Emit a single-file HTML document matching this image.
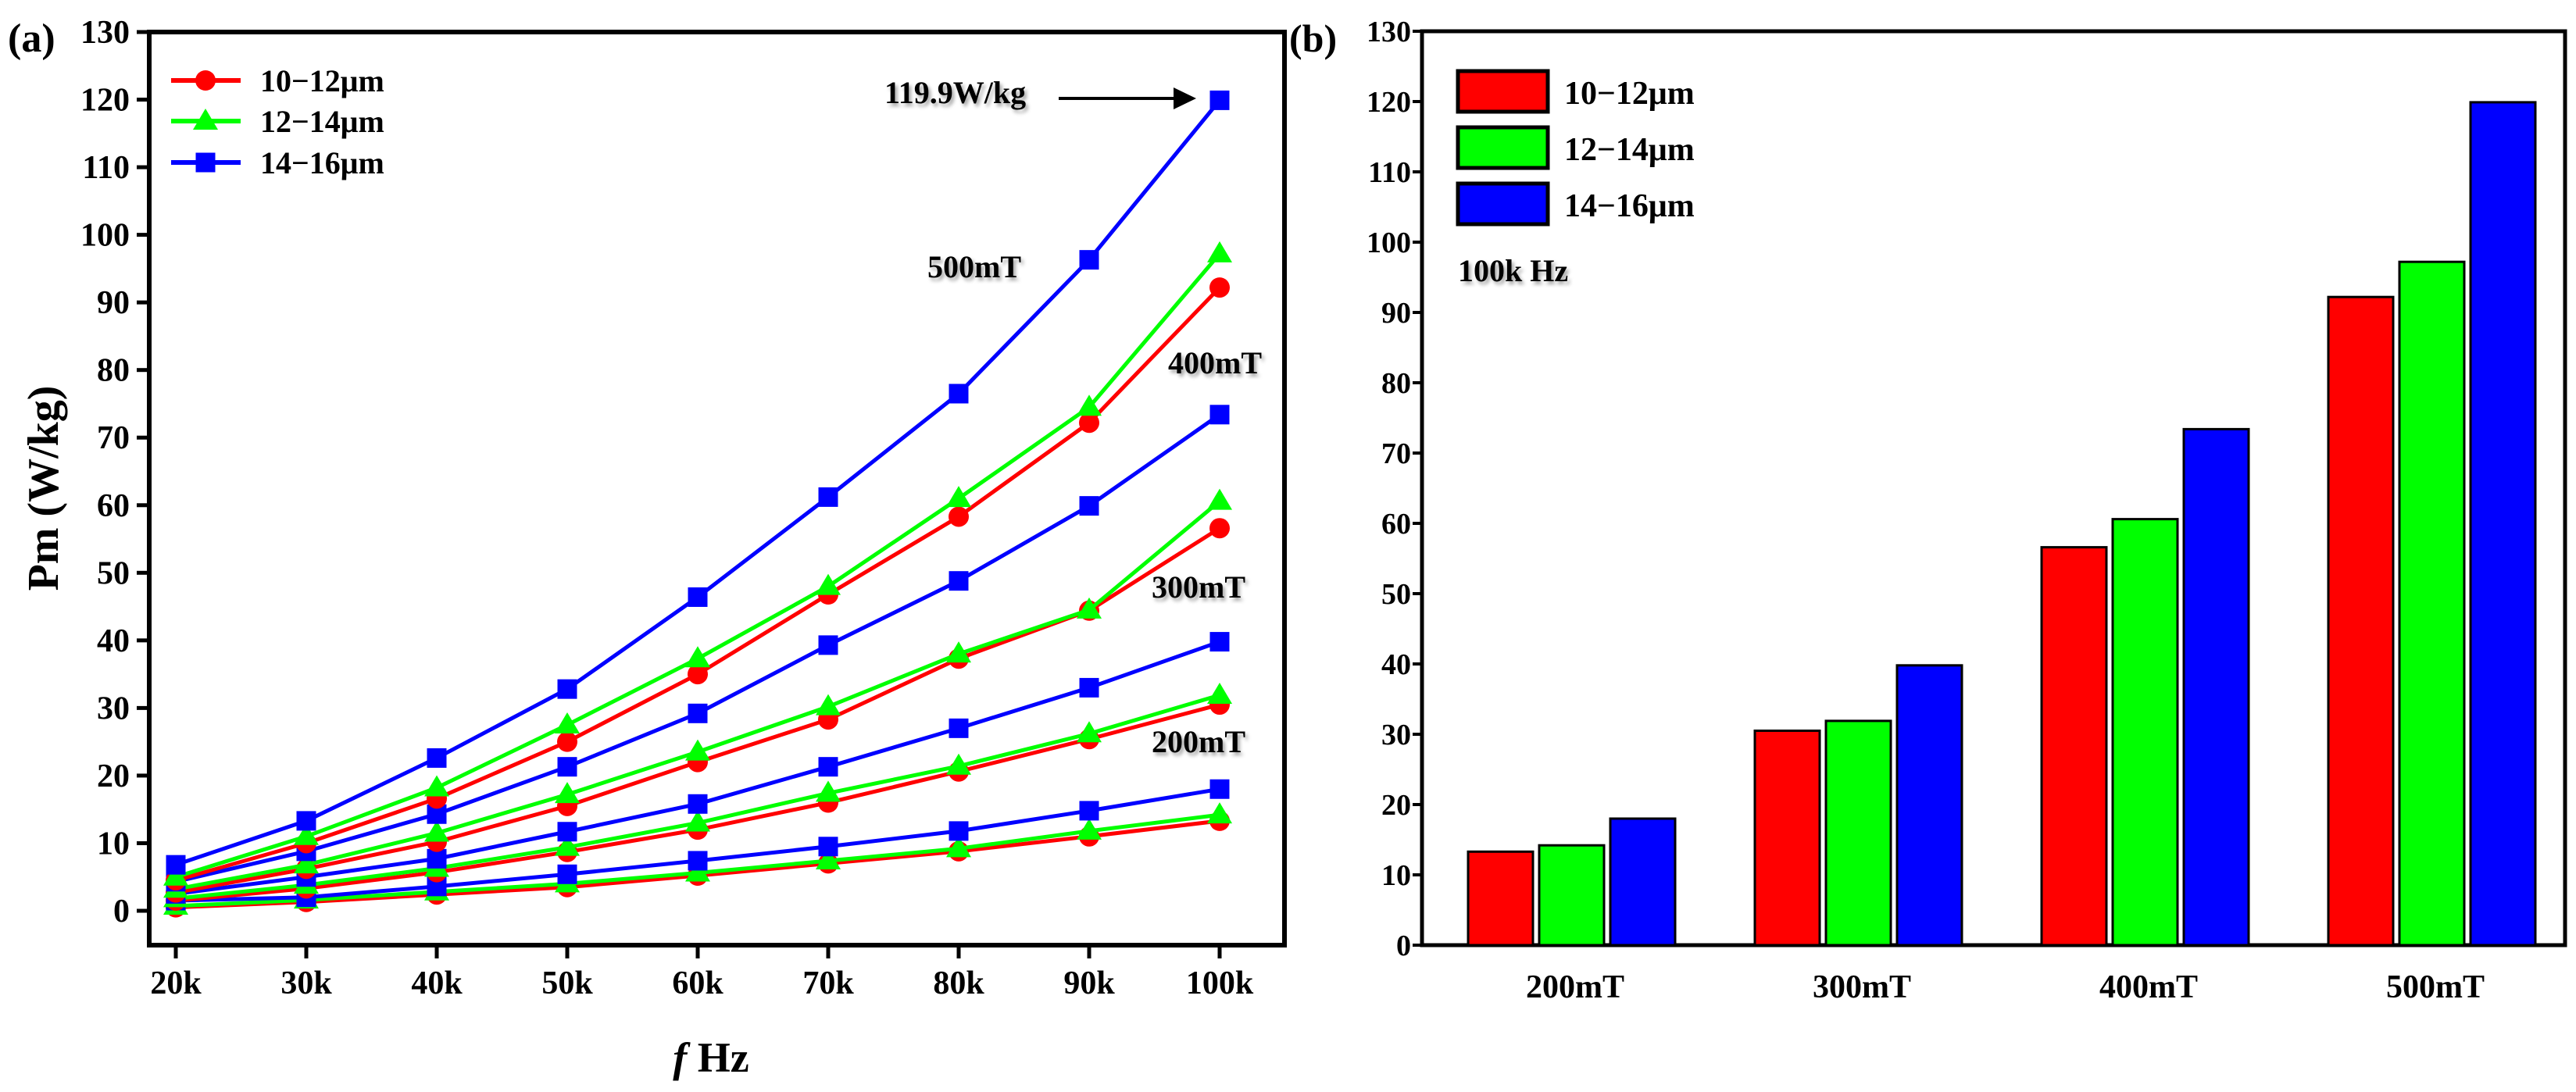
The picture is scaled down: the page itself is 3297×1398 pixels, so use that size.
<!DOCTYPE html>
<html><head><meta charset="utf-8"><style>
html,body{margin:0;padding:0;background:#fff;}
svg, svg text{font-family:"Liberation Serif","Times New Roman",Times,serif;font-weight:bold;}
</style></head><body>
<svg id="fig" width="3297" height="1393" viewBox="0 0 3297 1393" xmlns="http://www.w3.org/2000/svg" font-family="Liberation Serif, Times New Roman, serif" font-weight="bold">
<defs>
<filter id="sh" x="-10%" y="-20%" width="130%" height="160%"><feDropShadow dx="3" dy="4" stdDeviation="2.5" flood-color="#000" flood-opacity="0.35"/></filter>
</defs>
<g id="pa"></g>
<g id="pb"></g>
</svg>
<script>
const freqLabels = ["20k","30k","40k","50k","60k","70k","80k","90k","100k"];
const yTicks = [0,10,20,30,40,50,60,70,80,90,100,110,120,130];
const seriesNames = ["10\u221212\u03bcm","12\u221214\u03bcm","14\u221216\u03bcm"];
const seriesColors = ["#ff0000","#00ff00","#0000ff"];
// values per field (200,300,400,500 mT)
const red200 = [0.5,1.3,2.4,3.5,5.2,7.0,8.8,11.0,13.3];
const green200 = [0.7,1.6,2.8,4.0,5.6,7.4,9.2,11.8,14.2];
const blue200 = [1.5,2.0,3.6,5.4,7.4,9.5,11.8,14.8,18.0];
const red300 = [1.5,3.3,5.7,8.7,12.0,16.0,20.6,25.4,30.5];
const green300 = [1.8,3.8,6.3,9.4,13.0,17.4,21.4,26.2,31.9];
const blue300 = [2.5,5.0,7.7,11.7,15.8,21.3,27.0,33.0,39.8];
const red400 = [2.7,6.2,10.2,15.5,22.0,28.3,37.3,44.4,56.6];
const green400 = [3.2,6.8,11.5,17.2,23.5,30.2,38.0,44.5,60.6];
const blue400 = [4.3,8.8,14.3,21.3,29.2,39.3,48.8,59.9,73.4];
const red500 = [4.5,10.0,16.6,25.0,35.0,46.8,58.3,72.2,92.2];
const green500 = [5.0,11.0,18.2,27.5,37.3,48.0,61.0,74.5,97.2];
const blue500 = [6.8,13.3,22.6,32.8,46.4,61.2,76.5,96.3,119.9];
const fieldLabels = ["200mT","300mT","400mT","500mT"];
const barRed = [13.3,30.5,56.6,92.2];
const barGreen = [14.2,31.9,60.6,97.2];
const barBlue = [18.0,39.8,73.4,119.9];

const NS="http://www.w3.org/2000/svg";
const FF="Liberation Serif, Times New Roman, serif";
function mk(parent,tag,attrs,text){const e=document.createElementNS(NS,tag);for(const k in attrs)e.setAttribute(k,attrs[k]);if(tag==='text'){e.setAttribute('font-family',FF);e.setAttribute('font-weight','bold');}if(text!==undefined)e.textContent=text;parent.appendChild(e);return e;}

// ---------- Panel A ----------
const pa=document.getElementById('pa');
const ax={l:191,r:1644,t:41,b:1210};
const xA=i=>225+i*167;
const yA=v=>1166-v*(1125/130);
let e;
e=mk(pa,'rect',{x:ax.l,y:ax.t,width:ax.r-ax.l,height:ax.b-ax.t,fill:'none',stroke:'#000','stroke-width':6});


yTicks.forEach(v=>{
  e=mk(pa,'line',{x1:ax.l-16,x2:ax.l,y1:yA(v),y2:yA(v),stroke:'#000','stroke-width':5});
  
  
  e=mk(pa,'text',{x:166,y:yA(v)+14,'font-size':42,'text-anchor':'end'},String(v));
  
  
});
freqLabels.forEach((f,i)=>{
  e=mk(pa,'line',{x1:xA(i),x2:xA(i),y1:ax.b,y2:ax.b+17,stroke:'#000','stroke-width':5});
  
  
  e=mk(pa,'text',{x:xA(i),y:1272,'font-size':42,'text-anchor':'middle'},f);
  
  
});
e=mk(pa,'text',{x:0,y:0,'font-size':56,'text-anchor':'middle',transform:'translate(74,625) rotate(-90)'},'Pm (W/kg)');


e=mk(pa,'text',{x:910,y:1372,'font-size':54,'text-anchor':'middle'});


mk(e,'tspan',{'font-style':'italic'},'f');mk(e,'tspan',{},' Hz');
e=mk(pa,'text',{x:10,y:66,'font-size':52},'(a)');



function marker(g,type,cx,cy,color){
  let m;
  if(type===0) m=mk(g,'circle',{cx:cx,cy:cy,r:13,fill:color});
  else if(type===1) m=mk(g,'polygon',{points:`${cx},${cy-16} ${cx-16},${cy+11} ${cx+16},${cy+11}`,fill:color});
  else m=mk(g,'rect',{x:cx-12.5,y:cy-12.5,width:25,height:25,fill:color});
  return m;
}
const groups=[[red200,green200,blue200],[red300,green300,blue300],[red400,green400,blue400],[red500,green500,blue500]];
groups.forEach((grp,gi)=>{
  grp.forEach((vals,si)=>{
    const g=mk(pa,'g',{});
    
    
    const pts=vals.map((v,i)=>xA(i)+','+yA(v)).join(' ');
    e=mk(g,'polyline',{points:pts,fill:'none',stroke:seriesColors[si],'stroke-width':5});
    
    
    vals.forEach((v,i)=>{
      e=marker(g,si,xA(i),yA(v),seriesColors[si]);
      
      
    });
  });
});
// legend A
const legYA=[103,155,208];
seriesNames.forEach((n,si)=>{
  const g=mk(pa,'g',{});
  
  
  mk(g,'line',{x1:219,x2:308,y1:legYA[si],y2:legYA[si],stroke:seriesColors[si],'stroke-width':6});
  marker(g,si,263,legYA[si],seriesColors[si]);
  mk(g,'text',{x:333,y:legYA[si]+14,'font-size':40},n);
});
// annotations
[["119.9W/kg",1132,132],["500mT",1187,355],["400mT",1495,478],["300mT",1474,765],["200mT",1474,963]].forEach(a=>{
  e=mk(pa,'text',{x:a[1],y:a[2],'font-size':40,filter:'url(#sh)'},a[0]);
  
  
});
e=mk(pa,'line',{x1:1355,x2:1505,y1:126,y2:126,stroke:'#000','stroke-width':4});


e=mk(pa,'polygon',{points:'1531,126 1502,112 1502,140',fill:'#000'});



// ---------- Panel B ----------
const pb=document.getElementById('pb');
const bx={l:1820,r:3283,t:40,b:1210};
const yB=v=>1210-v*(1170/130);
const cB=i=>2011+i*367;
e=mk(pb,'path',{d:`M${bx.l},${bx.b} L${bx.l},${bx.t} L${bx.r},${bx.t} L${bx.r},${bx.b} Z`,fill:'none',stroke:'#000','stroke-width':5});


yTicks.forEach(v=>{
  e=mk(pb,'line',{x1:bx.l-12,x2:bx.l,y1:yB(v),y2:yB(v),stroke:'#000','stroke-width':4});
  
  
  e=mk(pb,'text',{x:1806,y:yB(v)+13,'font-size':38,'text-anchor':'end'},String(v));
  
  
});
e=mk(pb,'text',{x:1650,y:66,'font-size':50},'(b)');


const barSets=[barRed,barGreen,barBlue];
fieldLabels.forEach((f,i)=>{
  barSets.forEach((vals,si)=>{
    const x=cB(i)-132+si*91;
    e=mk(pb,'rect',{x:x,y:yB(vals[i]),width:83,height:yB(0)-yB(vals[i]),fill:seriesColors[si],stroke:'#000','stroke-width':3});
    
    
  });
  e=mk(pb,'text',{x:cB(i)+5,y:1277,'font-size':42,'text-anchor':'middle'},f);
  
  
});
const legYB=[91,163,235];
seriesNames.forEach((n,si)=>{
  const g=mk(pb,'g',{});
  
  
  mk(g,'rect',{x:1866,y:legYB[si],width:115,height:52,fill:seriesColors[si],stroke:'#000','stroke-width':5});
  mk(g,'text',{x:2002,y:legYB[si]+42,'font-size':42},n);
});
e=mk(pb,'text',{x:1866,y:360,'font-size':40,filter:'url(#sh)'},'100k Hz');


</script>
</body></html>
